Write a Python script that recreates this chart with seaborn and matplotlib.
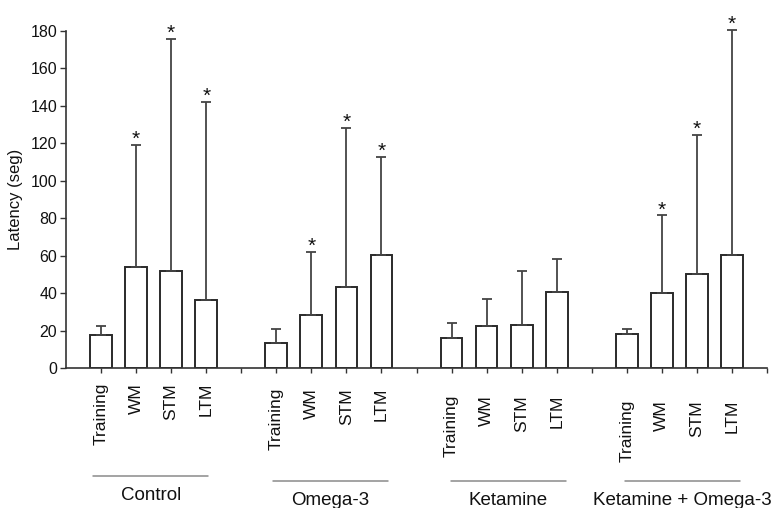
import numpy as np
import pandas as pd
import matplotlib
matplotlib.use("Agg")
import matplotlib.pyplot as plt
import seaborn as sns
from matplotlib.transforms import blended_transform_factory

# ---------------- data ----------------
groups = ["Control", "Omega-3", "Ketamine", "Ketamine + Omega-3"]
phases = ["Training", "WM", "STM", "LTM"]

control_mean = [17.6, 54.0, 51.9, 36.4]
control_sd = [4.8, 65.0, 123.6, 105.5]
omega_mean = [13.1, 28.1, 43.2, 60.1]
omega_sd = [7.9, 33.9, 85.0, 52.4]
ketamine_mean = [16.0, 22.6, 23.1, 40.5]
ketamine_sd = [7.8, 14.4, 28.8, 17.5]
ket_omega_mean = [18.1, 40.0, 50.1, 60.1]
ket_omega_sd = [2.5, 41.4, 74.5, 120.2]

control_sig = [False, True, True, True]
omega_sig = [False, True, True, True]
ketamine_sig = [False, False, False, False]
ket_omega_sig = [False, True, True, True]

y_ticks = [0, 20, 40, 60, 80, 100, 120, 140, 160, 180]

means = [control_mean, omega_mean, ketamine_mean, ket_omega_mean]
sds = [control_sd, omega_sd, ketamine_sd, ket_omega_sd]
sigs = [control_sig, omega_sig, ketamine_sig, ket_omega_sig]

rows = []
for g, grp in enumerate(groups):
    for i, ph in enumerate(phases):
        rows.append({"group": grp, "phase": ph, "pos": 1 + 5 * g + i,
                     "latency": means[g][i], "sd": sds[g][i], "sig": sigs[g][i]})
df = pd.DataFrame(rows)

# ---------------- style ----------------
sns.set_style("ticks")
plt.rcParams["font.family"] = ["Liberation Sans", "DejaVu Sans"]

W, H = 772, 508
fig = plt.figure(figsize=(W / 100, H / 100), dpi=100)
ax = fig.add_axes([66 / W, 1 - 368 / H, 701 / W, 337.3 / H])

edge = "#2a2a2a"
sns.barplot(data=df, x="pos", y="latency", native_scale=True, width=0.62,
            color="white", saturation=1, edgecolor=edge, linewidth=1.4,
            errorbar=None, ax=ax, zorder=2)

ax.errorbar(df["pos"], df["latency"], yerr=[np.zeros(len(df)), df["sd"]],
            fmt="none", ecolor="#444444", elinewidth=1.3, capsize=3.6,
            capthick=1.3, clip_on=False, zorder=3)

for _, r in df[df["sig"]].iterrows():
    ax.annotate("*", xy=(r["pos"], r["latency"] + r["sd"]), xytext=(0, 0),
                textcoords="offset points", ha="center", va="baseline",
                fontsize=15, color="#111111", annotation_clip=False)

ax.set_xlim(0, 20)
ax.set_ylim(0, 180)
ax.set_yticks(y_ticks)
ax.set_yticklabels([str(v) for v in y_ticks])

xt = list(range(1, 21))
lab_map = dict(zip(df["pos"], df["phase"]))
ax.set_xticks(xt)
ax.set_xticklabels([lab_map.get(p, "") for p in xt], rotation=90, fontsize=12.5)
ax.set_xlabel("")

sns.despine(ax=ax)
for s in ["left", "bottom"]:
    ax.spines[s].set_color("#333333")
    ax.spines[s].set_linewidth(1.2)

ax.tick_params(axis="y", direction="out", length=4.3, width=1.0,
               color="#333333", labelsize=11.5, pad=2, labelcolor="#111111")
ax.tick_params(axis="x", direction="out", length=3.6, width=1.0,
               color="#333333", labelcolor="#111111")

# staggered tick-label offsets per group
pads = [7.2, 10.8, 15.8, 19.4]
for t, p in zip(ax.xaxis.get_major_ticks(), xt):
    g = min((p - 1) // 5, 3)
    t.set_pad(pads[g])

ax.set_ylabel("Latency (seg)", fontsize=12, color="#111111")
ax.yaxis.set_label_coords(-0.061, 0.5)

# group labels with lines
trans = blended_transform_factory(ax.transData, fig.transFigure)
center_shift = [-0.08, 0.04, 0.12, 0.08]
line_y = [1 - 476 / H, 1 - 481 / H, 1 - 481 / H, 1 - 481 / H]
text_y = [1 - 500.4 / H, 1 - 505.4 / H, 1 - 505.4 / H, 1 - 505.4 / H]
for g, grp in enumerate(groups):
    c = 2.5 + 5 * g + center_shift[g]
    ax.plot([c - 1.64, c + 1.64], [line_y[g]] * 2, transform=trans,
            color="#8a8a8a", lw=1.1, clip_on=False)
    ax.text(c, text_y[g], grp, transform=trans, ha="center", va="baseline",
            fontsize=13.5, color="#111111")

fig.savefig("out.png", dpi=100)
